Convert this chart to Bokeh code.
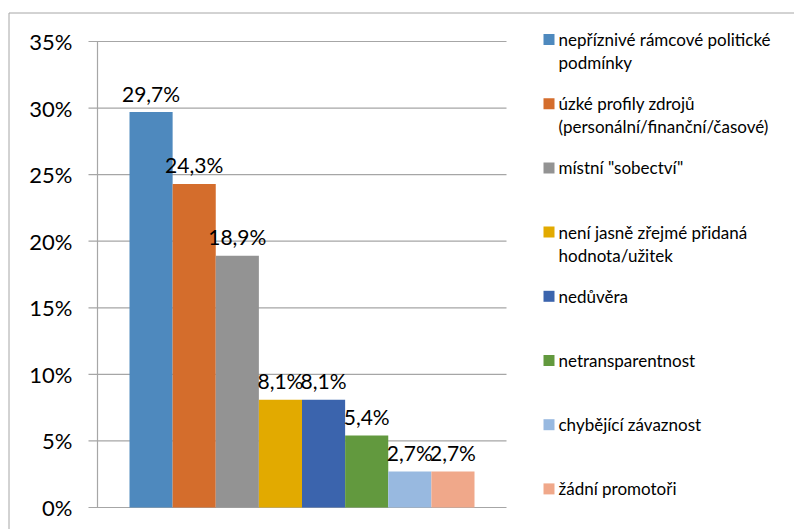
from bokeh.plotting import figure
from bokeh.models import ColumnDataSource, Range1d
from bokeh.core.properties import value
from bokeh.embed import file_html
from bokeh.resources import INLINE

# ---- data ----
categories = [
    "nepříznivé rámcové politické\npodmínky",
    "úzké profily zdrojů\n(personální/finanční/časové)",
    "místní \"sobectví\"",
    "není jasně zřejmé přidaná\nhodnota/užitek",
    "nedůvěra",
    "netransparentnost",
    "chybějící závaznost",
    "žádní promotoři",
]
values = [29.7, 24.3, 18.9, 8.1, 8.1, 5.4, 2.7, 2.7]
colors = ["#4E89BE", "#D46D2C", "#939393", "#E2AA00",
          "#3B64AD", "#62993E", "#98B9E0", "#F0A88A"]
y_ticks = [0, 5, 10, 15, 20, 25, 30, 35]
y_max = 35

# ---- layout (pixels) ----
W, H = 794, 529
PLOT_TOP, PLOT_BOTTOM = 41, 507          # pixel rows of 35 % and 0 %
AXIS_X, TICK_X0, GRID_X1 = 97, 88, 506   # axis line, tick start, grid end
BAR_LEFT, BAR_W = 129, 43.125
BORDER_X, BORDER_Y = 8.5, 12.5
LABEL_RIGHT = 72
LEG_SQ_X, LEG_SQ, LEG_TEXT_X = 543, 11, 558
LEG_Y0, LEG_DY, LEG_LINE = 39, 64.2, 23
FONT = "Lato"
GRID = "#a6a6a6"

ppu = (PLOT_BOTTOM - PLOT_TOP) / y_max
y_range = Range1d(-(H - PLOT_BOTTOM) / ppu, y_max + PLOT_TOP / ppu)
x_range = Range1d(-BAR_LEFT / BAR_W, (W - BAR_LEFT) / BAR_W)

p = figure(width=W, height=H, output_backend="svg", toolbar_location=None,
           x_range=x_range, y_range=y_range,
           x_axis_location=None, y_axis_location=None, min_border=0)
p.extra_x_ranges = {"px": Range1d(0, W)}
p.extra_y_ranges = {"px": Range1d(H, 0)}
p.outline_line_color = None
p.background_fill_color = "white"
p.border_fill_color = "white"
p.xgrid.visible = False
p.ygrid.visible = False

# ---- outer chart border ----
p.segment(x0=[BORDER_X, BORDER_X], y0=[BORDER_Y, BORDER_Y],
          x1=[BORDER_X, W + 5], y1=[H + 5, BORDER_Y],
          x_range_name="px", y_range_name="px",
          line_color=GRID, line_width=1)

# ---- gridlines with outer ticks, axis line ----
p.segment(x0=[TICK_X0] * len(y_ticks), x1=[GRID_X1] * len(y_ticks),
          y0=y_ticks, y1=y_ticks, x_range_name="px",
          line_color=GRID, line_width=1.2)
p.segment(x0=[AXIS_X], x1=[AXIS_X], y0=[y_ticks[0]], y1=[y_ticks[-1]],
          x_range_name="px", line_color=GRID, line_width=1.2)

# ---- y tick labels ----
p.text(x=[LABEL_RIGHT] * len(y_ticks), y=y_ticks,
       text=[f"{t}%" for t in y_ticks], x_range_name="px",
       text_align="right", text_baseline="middle", text_font=value(FONT),
       text_font_size="22px", text_color="#000000")

# ---- bars + value labels ----
src = ColumnDataSource(dict(
    x=[i + 0.5 for i in range(len(values))], val=values, col=colors,
    lab=[f"{v:.1f}".replace(".", ",") + "%" for v in values]))
p.vbar(x="x", top="val", bottom=0, width=1.0, source=src,
       fill_color="col", line_color=None)
p.text(x="x", y="val", text="lab", source=src, text_align="center",
       text_baseline="alphabetic", y_offset=-19, text_font=value(FONT),
       text_font_size="21px", text_color="#000000")

# ---- legend ----
sq_x, sq_y, sq_c = [], [], []
tx, ty, tt = [], [], []
for i, (name, c) in enumerate(zip(categories, colors)):
    cy = LEG_Y0 + LEG_DY * i
    sq_x.append(LEG_SQ_X + LEG_SQ / 2)
    sq_y.append(cy)
    sq_c.append(c)
    for j, line in enumerate(name.split("\n")):
        tx.append(LEG_TEXT_X)
        ty.append(cy + j * LEG_LINE)
        tt.append(line)
p.rect(x=sq_x, y=sq_y, width=LEG_SQ, height=LEG_SQ, fill_color=sq_c,
       line_color=None, x_range_name="px", y_range_name="px")
p.text(x=tx, y=ty, text=tt, x_range_name="px", y_range_name="px",
       text_align="left", text_baseline="middle", text_font=value(FONT),
       text_font_size="17px", text_color="#000000")

open("out.html", "w").write(file_html(p, INLINE))
